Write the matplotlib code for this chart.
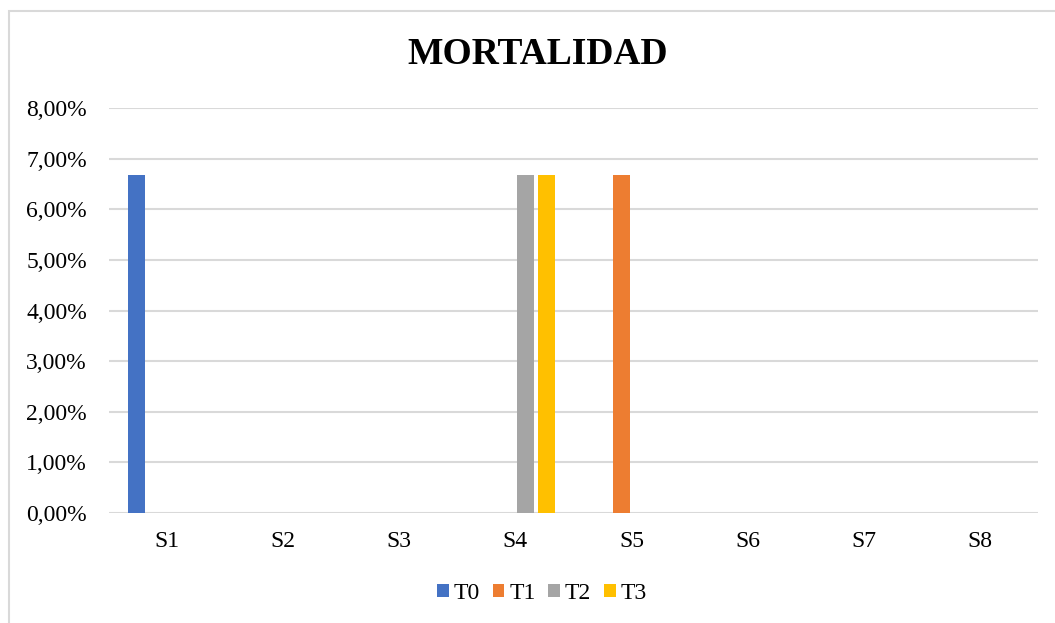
"""Gráfico de mortalidad por semana y tratamiento."""
import matplotlib
matplotlib.use("Agg")
import matplotlib.pyplot as plt
from matplotlib.patches import Rectangle
from matplotlib.ticker import FuncFormatter
import numpy as np

plt.rcParams["font.family"] = ["Liberation Serif", "DejaVu Serif"]

# datos
semanas = ["S1", "S2", "S3", "S4", "S5", "S6", "S7", "S8"]
tratamientos = ["T0", "T1", "T2", "T3"]
t0 = [6.67, 0, 0, 0, 0, 0, 0, 0]
t1 = [0, 0, 0, 0, 6.67, 0, 0, 0]
t2 = [0, 0, 0, 6.67, 0, 0, 0, 0]
t3 = [0, 0, 0, 6.67, 0, 0, 0, 0]
y_ticks = [0, 1, 2, 3, 4, 5, 6, 7, 8]

colores = ["#4472C4", "#ED7D31", "#A5A5A5", "#FFC000"]

fig = plt.figure(figsize=(10.55, 6.23), dpi=100)
ax = fig.add_axes([0.1033, 0.1766, 0.8806, 0.65])

# marco exterior del gráfico
fig.patches.append(Rectangle((9 / 1055, -0.1), 1.2, 1 - 11 / 623 + 0.1,
                             transform=fig.transFigure, fill=False,
                             edgecolor="#D9D9D9", linewidth=1.5))

x = np.arange(len(semanas))
paso = 0.176
ancho = 0.146
for i, (nombre, vals) in enumerate(zip(tratamientos, [t0, t1, t2, t3])):
    ax.bar(x + (i - 1.5) * paso, vals, width=ancho, color=colores[i],
           label=nombre, zorder=3)

ax.set_xlim(-0.5, len(semanas) - 0.5)
ax.set_ylim(0, 8)
ax.set_yticks(y_ticks)
ax.yaxis.set_major_formatter(FuncFormatter(lambda v, _: f"{v:.2f}%".replace(".", ",")))
ax.set_xticks(x)
ax.set_xticklabels(semanas)
ax.tick_params(axis="both", length=0, labelsize=17, colors="black")
ax.tick_params(axis="x", pad=13)
ax.tick_params(axis="y", pad=16)

ax.grid(axis="y", color="#D9D9D9", linewidth=1.5, zorder=0)
for s in ax.spines.values():
    s.set_visible(False)

fig.text(0.51, 0.912, "MORTALIDAD", ha="center", va="center",
         fontsize=27, fontweight="bold")

ax.legend(loc="center", bbox_to_anchor=(0.466, -0.198), ncol=4, frameon=False,
          fontsize=17, handlelength=0.5, handleheight=0.5, handletextpad=0.2,
          columnspacing=0.55)

fig.savefig("out.png", dpi=100)
